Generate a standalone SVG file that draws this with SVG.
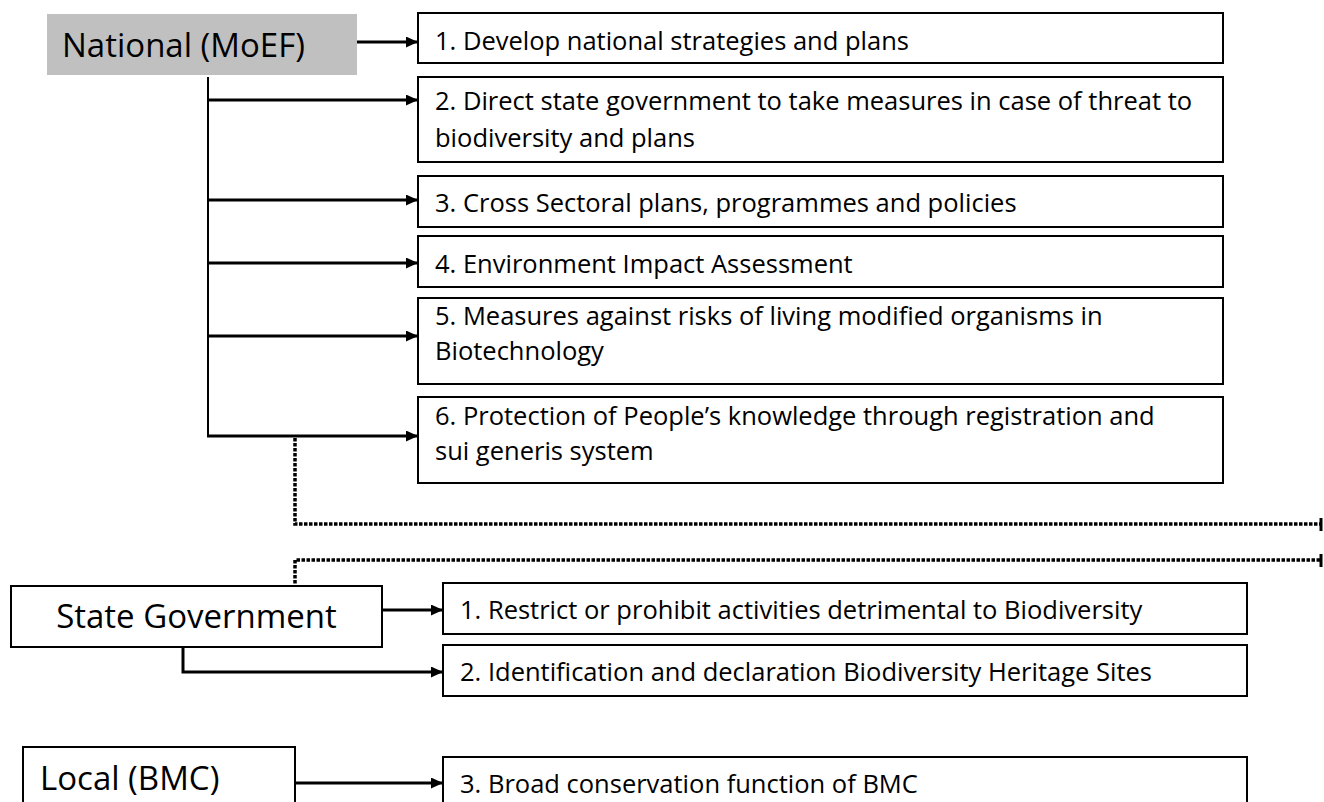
<svg xmlns="http://www.w3.org/2000/svg" width="1324" height="802" viewBox="0 0 1324 802">
<defs>
<marker id="ah" markerUnits="userSpaceOnUse" markerWidth="12" markerHeight="11" refX="12" refY="5.5" orient="auto">
<path d="M0,0 L12,5.5 L0,11 z" fill="#000"/>
</marker>
<style>
.box{fill:#fff;stroke:#000;stroke-width:2}
.hd{font-family:"Open Sans","Liberation Sans",sans-serif;font-size:33px;fill:#000}
.it{font-family:"Open Sans","Liberation Sans",sans-serif;font-size:25.5px;fill:#000}
.ln{fill:none;stroke:#000;stroke-width:3}
.vl{fill:none;stroke:#000;stroke-width:2}
.dt{fill:none;stroke:#000;stroke-width:3.5;stroke-dasharray:3.5 1.5}
</style>
</defs>
<rect width="1324" height="802" fill="#fff"/>
<g id="connectors">
<line class="ln" x1="357" y1="42" x2="418" y2="42" marker-end="url(#ah)"/>
<line class="vl" x1="208" y1="77" x2="208" y2="437"/>
<line class="ln" x1="207" y1="100" x2="418" y2="100" marker-end="url(#ah)"/>
<line class="ln" x1="207" y1="200" x2="418" y2="200" marker-end="url(#ah)"/>
<line class="ln" x1="207" y1="263" x2="418" y2="263" marker-end="url(#ah)"/>
<line class="ln" x1="207" y1="336" x2="418" y2="336" marker-end="url(#ah)"/>
<line class="ln" x1="207" y1="436" x2="418" y2="436" marker-end="url(#ah)"/>
<path class="dt" d="M295,438 V524 H1320"/>
<line x1="1321" y1="518" x2="1321" y2="531" stroke="#000" stroke-width="3"/>
<path class="dt" d="M1320,560 H295 V586"/>
<line x1="1321" y1="554" x2="1321" y2="567" stroke="#000" stroke-width="3"/>
<line class="ln" x1="382" y1="610" x2="443" y2="610" marker-end="url(#ah)"/>
<path class="ln" d="M183,647 V672 H443" marker-end="url(#ah)"/>
<line class="ln" x1="295" y1="783" x2="443" y2="783" marker-end="url(#ah)"/>
</g>
<g id="national">
<rect x="47" y="14" width="310" height="61" fill="#c0c0c0"/>
<text class="hd" x="62" y="57">National (MoEF)</text>
</g>
<g id="n1">
<rect class="box" x="418" y="13" width="805" height="50"/>
<text class="it" x="435" y="50">1. Develop national strategies and plans</text>
</g>
<g id="n2">
<rect class="box" x="418" y="77" width="805" height="85"/>
<text class="it" x="435" y="110">2. Direct state government to take measures in case of threat to</text>
<text class="it" x="435" y="147">biodiversity and plans</text>
</g>
<g id="n3">
<rect class="box" x="418" y="176" width="805" height="51"/>
<text class="it" x="435" y="212">3. Cross Sectoral plans, programmes and policies</text>
</g>
<g id="n4">
<rect class="box" x="418" y="236" width="805" height="51"/>
<text class="it" x="435" y="273">4. Environment Impact Assessment</text>
</g>
<g id="n5">
<rect class="box" x="418" y="298" width="805" height="86"/>
<text class="it" x="435" y="325">5. Measures against risks of living modified organisms in</text>
<text class="it" x="435" y="360">Biotechnology</text>
</g>
<g id="n6">
<rect class="box" x="418" y="397" width="805" height="86"/>
<text class="it" x="435" y="425">6. Protection of People’s knowledge through registration and</text>
<text class="it" x="435" y="460">sui generis system</text>
</g>
<g id="state">
<rect class="box" x="11" y="586" width="371" height="61"/>
<text class="hd" x="196.5" y="628" text-anchor="middle">State Government</text>
</g>
<g id="s1">
<rect class="box" x="443" y="583" width="804" height="51"/>
<text class="it" x="460" y="619">1. Restrict or prohibit activities detrimental to Biodiversity</text>
</g>
<g id="s2">
<rect class="box" x="443" y="645" width="804" height="51"/>
<text class="it" x="460" y="681">2. Identification and declaration Biodiversity Heritage Sites</text>
</g>
<g id="local">
<rect class="box" x="23" y="747" width="272" height="70"/>
<text class="hd" x="40" y="790">Local (BMC)</text>
</g>
<g id="l1">
<rect class="box" x="443" y="757" width="804" height="60"/>
<text class="it" x="460" y="793">3. Broad conservation function of BMC</text>
</g>
</svg>
